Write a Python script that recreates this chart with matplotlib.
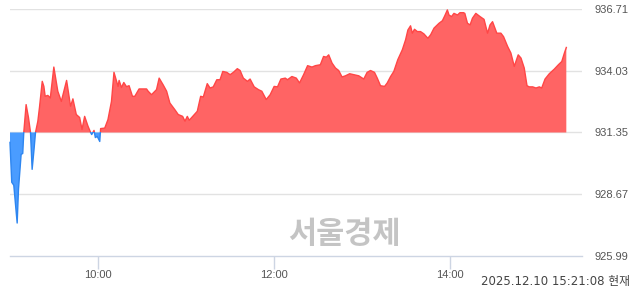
import numpy as np
import matplotlib.pyplot as plt
from matplotlib.patches import Rectangle

# minutes after 09:00, index value
minutes = [0.0, 1.2, 2.6, 4.9, 5.8, 7.6, 8.7, 9.4, 11.0, 12.6, 14.0, 15.1, 16.4, 17.4,
           19.0, 20.1, 22.0, 23.1, 24.0, 25.8, 27.5, 29.9, 32.6, 35.0, 38.6, 41.3,
           42.9, 45.2, 47.5, 49.1, 50.9, 53.2, 55.0, 55.7, 57.3, 58.2, 59.5, 61.2,
           61.8, 64.6, 66.8, 69.2, 70.9, 73.7, 74.4, 76.0, 77.6, 79.4, 81.2, 83.5,
           85.1, 88.0, 93.1, 94.2, 96.5, 99.9, 101.7, 104.4, 106.8, 109.0, 112.4,
           114.7, 117.7, 119.3, 120.9, 122.2, 125.0, 127.7, 130.0, 131.8, 134.5,
           136.4, 138.6, 141.0, 143.2, 145.1, 147.8, 150.1, 152.3, 155.0, 156.9,
           159.1, 161.9, 163.7, 166.5, 169.4, 171.7, 174.7, 177.4, 180.1, 182.4,
           184.7, 187.7, 189.2, 192.2, 195.2, 197.4, 200.2, 202.9, 205.9, 208.2,
           211.6, 213.8, 215.7, 217.3, 219.6, 221.9, 224.1, 226.4, 228.7, 231.6,
           234.4, 237.8, 241.2, 243.5, 245.8, 248.5, 250.4, 252.6, 255.4, 257.2,
           259.5, 261.7, 264.4, 267.5, 269.7, 271.3, 273.1, 274.3, 275.8, 277.7,
           279.9, 282.2, 284.9, 286.8, 289.1, 292.5, 294.8, 296.4, 298.2, 299.3,
           301.0, 302.7, 305.1, 306.8, 309.2, 310.1, 311.9, 313.7, 315.3, 317.6,
           320.5, 323.2, 325.6, 327.3, 329.0, 330.6, 331.9, 334.7, 336.5, 339.3,
           341.5, 343.8, 346.5, 348.4, 350.6, 352.5, 354.0, 356.4, 358.6, 360.9,
           362.5, 364.8, 367.7, 371.1, 373.9, 376.2, 378.0, 379.3]
values = [930.92, 929.19, 929.06, 927.42, 928.89, 930.40, 930.44, 931.35, 932.56, 932.00,
          931.35, 929.75, 930.62, 931.35, 931.84, 932.43, 933.57, 933.35, 932.92,
          932.96, 932.85, 934.19, 933.14, 932.70, 933.61, 932.49, 932.81, 932.13,
          932.00, 931.48, 932.05, 931.62, 931.35, 931.26, 931.44, 931.13, 931.18,
          930.96, 931.52, 931.54, 931.91, 932.70, 933.96, 933.35, 933.61, 933.30,
          933.52, 933.34, 933.38, 932.92, 932.92, 933.24, 933.24, 933.14, 932.99,
          933.21, 933.71, 933.42, 933.14, 932.63, 932.34, 932.13, 932.05, 931.84,
          932.05, 931.88, 932.08, 932.27, 932.92, 932.89, 933.47, 933.28, 933.33,
          933.64, 933.64, 934.00, 933.96, 933.86, 933.96, 934.12, 934.04, 933.71,
          933.57, 933.67, 933.33, 933.21, 933.14, 932.78, 932.99, 933.35, 933.33,
          933.67, 933.71, 933.64, 933.78, 933.71, 933.50, 933.86, 934.25, 934.19,
          934.25, 934.29, 934.65, 934.62, 934.72, 934.36, 934.15, 934.04, 933.76,
          933.81, 933.90, 933.86, 933.81, 933.67, 933.96, 934.04, 933.96, 933.71,
          933.38, 933.35, 933.50, 933.78, 934.00, 934.51, 934.94, 935.37, 935.80,
          935.98, 935.66, 935.83, 935.73, 935.73, 935.63, 935.44, 935.59, 935.88,
          936.09, 936.20, 936.41, 936.67, 936.45, 936.38, 936.52, 936.45, 936.55,
          936.55, 936.52, 936.09, 936.02, 936.31, 936.52, 936.38, 936.26, 935.66,
          936.02, 936.16, 935.88, 935.66, 935.66, 935.51, 935.08, 934.80, 934.22,
          934.72, 934.58, 934.15, 933.38, 933.33, 933.33, 933.28, 933.33, 933.28,
          933.67, 933.90, 934.10, 934.29, 934.43, 934.80, 935.04]

prev_close = 931.35
ytick_vals = [925.99, 928.67, 931.35, 934.03, 936.71]
xtick_pos = [60, 180, 300]
xtick_labels = ['10:00', '12:00', '14:00']
stamp = '2025.12.10 15:21:08 현재'

t = np.array(minutes)
v = np.array(values)

fig = plt.figure(figsize=(6.4, 2.94), dpi=100)
ax = fig.add_axes([0.0156, 0.1293, 0.8938, 0.8401])

up_col = '#ff6464'
dn_col = '#4a9cff'
ax.fill_between(t, v, prev_close, where=v >= prev_close, interpolate=True,
                color=up_col, linewidth=0, zorder=2)
ax.fill_between(t, v, prev_close, where=v <= prev_close, interpolate=True,
                color=dn_col, linewidth=0, zorder=2)

# outline: red above the base, blue below
l_up, = ax.plot(t, v, color='#ff4646', lw=1.0, zorder=3)
l_dn, = ax.plot(t, v, color='#2e86f0', lw=1.0, zorder=3)
r_up = Rectangle((-10, prev_close), 500, 20, transform=ax.transData)
r_dn = Rectangle((-10, prev_close - 20), 500, 20, transform=ax.transData)
l_up.set_clip_path(r_up)
l_dn.set_clip_path(r_dn)

ax.set_xlim(0, 390)
ax.set_ylim(ytick_vals[0], ytick_vals[-1])

for yv in ytick_vals[1:]:
    ax.axhline(yv, color='#e2e2e2', lw=1.0, zorder=1)

for s in ['top', 'left', 'right']:
    ax.spines[s].set_visible(False)
ax.spines['bottom'].set_color('#cdd5e3')
ax.spines['bottom'].set_linewidth(1.0)

ax.yaxis.tick_right()
ax.set_yticks(ytick_vals)
ax.set_yticklabels(['%.2f' % y for y in ytick_vals], family='Liberation Sans')
ax.tick_params(axis='y', length=0, pad=9, labelsize=8, labelcolor='#555555')

ax.set_xticks(xtick_pos)
ax.set_xticklabels(xtick_labels, family='Liberation Sans')
ax.tick_params(axis='x', length=9, width=1, color='#cdd5e3', pad=1,
               labelsize=8, labelcolor='#555555')

# watermark
ax.text(0.585, 0.089, '서울경제', transform=ax.transAxes, ha='center', va='center',
        fontsize=22, fontweight='bold', color='#c4c4c4',
        family=['Noto Sans CJK KR'], zorder=4)

fig.text(0.985, 0.02, stamp, ha='right', va='bottom', fontsize=8.5,
         color='#444444', family=['DejaVu Sans', 'Noto Sans CJK KR'])

fig.savefig('out.png', dpi=100)
